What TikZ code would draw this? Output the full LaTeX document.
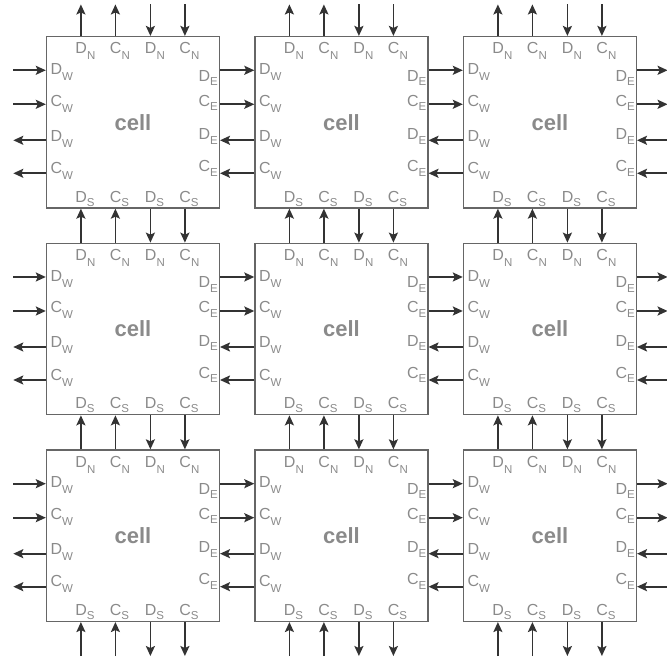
\documentclass[tikz,border=0pt]{standalone}
\usepackage{fontspec}
\setmainfont{Liberation Sans}
\usetikzlibrary{arrows.meta}
\definecolor{Frame}{HTML}{666666}
\definecolor{Label}{HTML}{8A8A8A}
\definecolor{Wire}{HTML}{333333}
\newcommand\port[3][6pt]{#2\raisebox{-#1}{\fontsize{11.5}{12}\selectfont #3}}

\begin{document}
\begin{tikzpicture}[x=1pt,y=1pt,
  cellbox/.style={draw=Frame,line width=1.2pt,minimum width=173pt,minimum height=171.5pt,
   inner sep=0pt,text=Label,font=\fontsize{22}{24}\selectfont\bfseries},
  portlbl/.style={text=Label,inner sep=0pt,font=\fontsize{16}{18}\selectfont},
  wire/.style={-{Stealth[length=10pt,width=9pt,inset=2pt]},line width=1.8pt,draw=Wire}]
  \useasboundingbox (0,0) rectangle (667,660);
  % cells
  \foreach \i/\y in {1/537.7,2/331,3/124.3}
    \foreach \j/\x in {1/132.9,2/341.4,3/549.9}
      \node[cellbox] (c-\i-\j) at (\x,\y) {cell};
  % port labels
  \foreach \i in {1,2,3}
    \foreach \j in {1,2,3} {
      \foreach \dx/\ltr [count=\k] in {-52/D,-17.5/C,17.5/D,52/C} {
        \node[portlbl,anchor=base] (pn-\i-\j-\k) at ([xshift=\dx+4.5,yshift=-17.8]c-\i-\j.north) {\port{\ltr}{N}};
        \node[portlbl,anchor=base] (ps-\i-\j-\k) at ([xshift=\dx+4,yshift=6.5]c-\i-\j.south) {\port[4pt]{\ltr}{S}};
      }
      \foreach \dy/\ltr [count=\k] in {47.9/D,16.2/C,-18.8/D,-51.3/C}
        \node[portlbl,anchor=base west] (pw-\i-\j-\k) at ([xshift=4.5,yshift=\dy]c-\i-\j.west) {\port{\ltr}{W}};
      \foreach \dy/\ltr [count=\k] in {41.2/D,16.2/C,-17.3/D,-49.3/C}
        \node[portlbl,anchor=base east] (pe-\i-\j-\k) at ([xshift=-2,yshift=\dy]c-\i-\j.east) {\port[4.5pt]{\ltr}{E}};
    }
  % links between rows
  \foreach \i/\k in {1/2,2/3}
    \foreach \j in {1,2,3} {
      \foreach \dx in {-52,-17.5}
        \draw[wire] ([xshift=\dx]c-\k-\j.north) -- ([xshift=\dx]c-\i-\j.south);
      \foreach \dx in {17.5,52}
        \draw[wire] ([xshift=\dx]c-\i-\j.south) -- ([xshift=\dx]c-\k-\j.north);
    }
  % links between columns
  \foreach \j/\k in {1/2,2/3}
    \foreach \i in {1,2,3} {
      \foreach \dy in {52,18}
        \draw[wire] ([yshift=\dy]c-\i-\j.east) -- ([yshift=\dy]c-\i-\k.west);
      \foreach \dy in {-18,-51}
        \draw[wire] ([yshift=\dy]c-\i-\k.west) -- ([yshift=\dy]c-\i-\j.east);
    }
  % outer ports
  \foreach \j in {1,2,3} {
    \foreach \dx in {-52,-17.5} {
      \draw[wire] ([xshift=\dx]c-1-\j.north) -- ([xshift=\dx,yshift=31.5]c-1-\j.north);
      \draw[wire] ([xshift=\dx,yshift=-34]c-3-\j.south) -- ([xshift=\dx]c-3-\j.south);
    }
    \foreach \dx in {17.5,52} {
      \draw[wire] ([xshift=\dx,yshift=31.5]c-1-\j.north) -- ([xshift=\dx]c-1-\j.north);
      \draw[wire] ([xshift=\dx]c-3-\j.south) -- ([xshift=\dx,yshift=-34]c-3-\j.south);
    }
  }
  \foreach \i in {1,2,3} {
    \foreach \dy in {52,18} {
      \draw[wire] ([xshift=-32.5,yshift=\dy]c-\i-1.west) -- ([yshift=\dy]c-\i-1.west);
      \draw[wire] ([yshift=\dy]c-\i-3.east) -- ([xshift=30.6,yshift=\dy]c-\i-3.east);
    }
    \foreach \dy in {-18,-51} {
      \draw[wire] ([yshift=\dy]c-\i-1.west) -- ([xshift=-32.5,yshift=\dy]c-\i-1.west);
      \draw[wire] ([xshift=30.6,yshift=\dy]c-\i-3.east) -- ([yshift=\dy]c-\i-3.east);
    }
  }
\end{tikzpicture}
\end{document}
